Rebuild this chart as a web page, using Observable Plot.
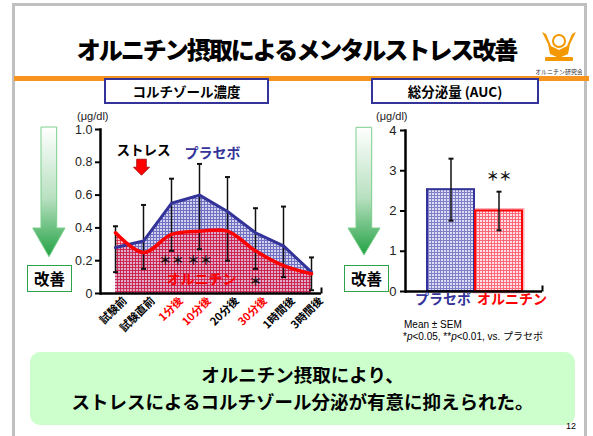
<!DOCTYPE html>
<html><head><meta charset="utf-8">
<script src="https://cdn.jsdelivr.net/npm/d3@7"></script>
<script src="https://cdn.jsdelivr.net/npm/@observablehq/plot@0.6"></script>
<style>
html,body{margin:0;padding:0;}
body{width:593px;height:436px;overflow:hidden;background:#fff;position:relative;font-family:"Noto Sans CJK JP","Noto Sans",sans-serif;}
.abs{position:absolute;}
.frame{left:12px;top:3px;width:575px;height:460px;border:3px solid #c0c0c0;box-sizing:border-box;}
.title{left:0;width:593px;top:31px;text-align:center;font-size:24px;font-weight:900;letter-spacing:-2px;color:#000;line-height:36px;}
.orange{left:14px;top:76px;width:575px;height:5px;background:#f7941d;}
.secbox{border:2px solid #333399;box-sizing:border-box;height:26px;text-align:center;font-weight:700;font-size:13.5px;line-height:22px;color:#000;background:#fff;}
.kaizen{border:1.5px solid #2ca24a;box-sizing:border-box;width:45px;height:27px;text-align:center;font-weight:700;font-size:15.5px;line-height:24px;color:#000;background:#fff;}
.bottom{left:30px;top:352px;width:545px;height:73px;background:#ccffcc;border-radius:10px;text-align:center;font-weight:700;font-size:18.5px;line-height:27px;color:#000;padding-top:9px;box-sizing:border-box;}
.note{font-family:"Liberation Sans","Noto Sans CJK JP",sans-serif;font-size:10px;color:#000;line-height:11.5px;}
</style></head><body>
<svg width="0" height="0" style="position:absolute">
 <defs>
  <pattern id="gBlue" width="3" height="3" patternUnits="userSpaceOnUse">
   <rect width="3" height="3" fill="#d2d2ee"/>
   <path d="M0 0.5H3M0.5 0V3" stroke="#7070c2" stroke-width="1"/>
  </pattern>
  <pattern id="gRed" width="3" height="3" patternUnits="userSpaceOnUse">
   <rect width="3" height="3" fill="#ff5a7a" fill-opacity="0.32"/>
   <path d="M0 0.5H3M0.5 0V3" stroke="#d8183c" stroke-opacity="0.75" stroke-width="1"/>
  </pattern>
  <pattern id="bBlue" width="3" height="3" patternUnits="userSpaceOnUse">
   <rect width="3" height="3" fill="#dcdcf2"/>
   <path d="M0 0.5H3M0.5 0V3" stroke="#8080c8" stroke-width="1"/>
  </pattern>
  <pattern id="bRed" width="3" height="3" patternUnits="userSpaceOnUse">
   <rect width="3" height="3" fill="#ffe0e4"/>
   <path d="M0 0.5H3M0.5 0V3" stroke="#ff6a7a" stroke-width="1"/>
  </pattern>
  <linearGradient id="gArrow" x1="0" y1="0" x2="0" y2="1">
   <stop offset="0" stop-color="#ffffff"/>
   <stop offset="0.55" stop-color="#b8e0c0"/>
   <stop offset="1" stop-color="#22a244"/>
  </linearGradient>
 </defs>
</svg>

<div class="abs frame"></div>
<div class="abs title">オルニチン摂取によるメンタルストレス改善</div>
<svg class="abs" style="left:536px;top:24px" width="46" height="56">
 <g fill="#f39800">
  <path d="M6 8 L12 20 L14 30 L23 34 L32 30 L34 20 L40 8 L36 10 L31 22 L23 26 L15 22 L10 10 Z"/>
  <circle cx="23" cy="17" r="6" fill="none" stroke="#f39800" stroke-width="2"/>
  <rect x="9" y="33" width="28" height="4" rx="1"/>
 </g>
 <text x="23" y="50" text-anchor="middle" font-size="6" font-family="Noto Sans CJK JP" fill="#333">オルニチン研究会</text>
</svg>
<div class="abs orange"></div>

<div class="abs secbox" style="left:104px;top:78px;width:165px;">コルチゾール濃度</div>
<div class="abs secbox" style="left:371px;top:78px;width:168px;">総分泌量 (AUC)</div>

<svg class="abs" style="left:25px;top:120px" width="50" height="140">
 <path d="M16 7 H31.7 V108 H40 L24 136.7 L7.7 108 H16 Z" fill="url(#gArrow)" stroke="#7ccf8c" stroke-width="1"/>
</svg>
<svg class="abs" style="left:340px;top:120px" width="50" height="140">
 <path d="M16 7.3 H31.7 V108 H40 L24 135 L8 108 H16 Z" fill="url(#gArrow)" stroke="#7ccf8c" stroke-width="1"/>
</svg>
<div class="abs kaizen" style="left:27px;top:265px;">改善</div>
<div class="abs kaizen" style="left:344px;top:265px;">改善</div>

<div id="chart1" class="abs" style="left:60px;top:105px"></div>
<div id="chart2" class="abs" style="left:335px;top:105px"></div>

<div class="abs note" style="left:404px;top:319px;">Mean ± SEM</div>
<div class="abs note" style="left:403px;top:331px;">*<i>p</i>&lt;0.05, **<i>p</i>&lt;0.01, vs. プラセボ</div>

<div class="abs bottom">オルニチン摂取により、<br>ストレスによるコルチゾール分泌が有意に抑えられた。</div>
<div class="abs" style="left:566px;top:421px;font-family:'Liberation Sans';font-size:9px;color:#000;">12</div>

<script>
// ---- Cortisol time course (µg/dl) ----
const timepoints = ["試験前","試験直前","1分後","10分後","20分後","30分後","1時間後","3時間後"];
const redTimepoints = ["1分後","10分後","30分後"];
const placeboCortisol = [0.28, 0.32, 0.55, 0.60, 0.50, 0.37, 0.29, 0.13];
const ornithineCortisol = [0.37, 0.25, 0.36, 0.38, 0.38, 0.26, 0.17, 0.12];
const errorUpper = [0.41, 0.54, 0.70, 0.79, 0.71, 0.52, 0.53, 0.22];
const errorLower = [0.13, 0.15, 0.26, 0.27, 0.20, 0.15, 0.10, 0.02];
const cortisolTicks = [0, 0.2, 0.4, 0.6, 0.8, 1.0];
const sigTimes = ["1分後","10分後","30分後"];
const sigLabels = ["＊＊","＊＊","＊"];
const sigLevels = [0.20, 0.20, 0.07];
const stressTime = "試験直前";

// ---- AUC ----
const groups = ["プラセボ","オルニチン"];
const aucMean = [2.53, 2.00];
const aucSem = [0.77, 0.48];
const aucTicks = [0, 1, 2, 3, 4];

const lineData = timepoints.map((t, i) => ({t, p: placeboCortisol[i], o: ornithineCortisol[i], hi: errorUpper[i], lo: errorLower[i]}));
const sigData = sigTimes.map((t, i) => ({t, label: sigLabels[i], y: sigLevels[i]}));

const downArrow = {
  draw(ctx, size) {
    const r = Math.sqrt(size / Math.PI);
    const w = r * 0.6;
    ctx.moveTo(-w, -r); ctx.lineTo(w, -r); ctx.lineTo(w, 0); ctx.lineTo(r, 0);
    ctx.lineTo(0, r); ctx.lineTo(-r, 0); ctx.lineTo(-w, 0); ctx.closePath();
  }
};
const upTick = { draw(ctx) { ctx.moveTo(0, 0); ctx.lineTo(0, -6); } };
const cap = { draw(ctx) { ctx.moveTo(-2.5, 0); ctx.lineTo(2.5, 0); } };

const jp = "Noto Sans CJK JP";
const numFont = "Liberation Sans, Arial, sans-serif";

const chart1 = Plot.plot({
  width: 270, height: 235,
  marginLeft: 40, marginRight: 9, marginTop: 24, marginBottom: 47,
  x: {type: "point", domain: timepoints, range: [55, 251], padding: 0, axis: null},
  y: {domain: [0, 1], axis: null},
  color: {type: "identity"},
  style: {fontFamily: numFont, background: "transparent", overflow: "visible"},
  marks: [
    Plot.areaY(lineData, {x: "t", y: "p", fill: "url(#gBlue)"}),
    Plot.areaY(lineData, {x: "t", y: "o", fill: "url(#gRed)", curve: "catmull-rom"}),
    Plot.ruleX(lineData, {x: "t", y1: "lo", y2: "hi", stroke: "#111", strokeWidth: 1.5}),
    Plot.dot(lineData, {x: "t", y: "hi", symbol: cap, r: 3, stroke: "#111", strokeWidth: 2}),
    Plot.dot(lineData, {x: "t", y: "lo", symbol: cap, r: 3, stroke: "#111", strokeWidth: 2}),
    Plot.lineY(lineData, {x: "t", y: "p", stroke: "#333399", strokeWidth: 3}),
    Plot.lineY(lineData, {x: "t", y: "o", stroke: "#ff0000", strokeWidth: 3.5, curve: "catmull-rom"}),
    Plot.text(sigData, {x: "t", y: "y", text: "label", fontFamily: jp, fontWeight: 700, fontSize: 12.5, fill: "#111", letterSpacing: "-2px"}),
    Plot.text(["ストレス"], {x: () => stressTime, y: 0.87, text: d => d, fontFamily: jp, fontWeight: 700, fontSize: 13.5, fill: "#000"}),
    Plot.dot([stressTime], {x: d => d, y: 0.77, dx: -2, r: 8, symbol: downArrow, fill: "#ff0000", stroke: "#a00000", strokeWidth: 0.8}),
    Plot.text(["プラセボ"], {x: () => "10分後", y: 0.855, dx: 13, text: d => d, fontFamily: jp, fontWeight: 700, fontSize: 14, fill: "#333399"}),
    Plot.text(["オルニチン"], {x: () => "10分後", y: 0.085, dx: 2, text: d => d, fontFamily: jp, fontWeight: 700, fontSize: 14, fill: "#ff0000"}),
    Plot.frame({anchor: "left", stroke: "#000", strokeWidth: 2.5}),
    Plot.ruleY([0], {stroke: "#000", strokeWidth: 2.5}),
    Plot.dot([0], {frameAnchor: "bottom-right", symbol: upTick, r: 3, stroke: "#000", strokeWidth: 2}),
    Plot.axisY({ticks: cortisolTicks, tickFormat: d => d === 0 ? "0" : d.toFixed(1), tickSize: 5, tickPadding: 3, strokeWidth: 2, fontSize: 12.5, fill: "#222", label: null}),
    Plot.text(["(μg/dl)"], {frameAnchor: "top-left", text: d => d, textAnchor: "end", dx: 8, dy: -17.5, fontSize: 11, fill: "#222"}),
    Plot.text(timepoints, {x: d => d, text: d => d, frameAnchor: "bottom", dx: 12, dy: 8, rotate: -45, textAnchor: "end", fontFamily: jp, fontWeight: 700, fontSize: 11, fill: d => redTimepoints.includes(d) ? "#ff0000" : "#000"})
  ]
});
document.getElementById("chart1").appendChild(chart1);

const aucData = groups.map((g, i) => ({g, m: aucMean[i], s: aucSem[i]}));
const barFill = {"プラセボ": "url(#bBlue)", "オルニチン": "url(#bRed)"};
const barStroke = {"プラセボ": "#333399", "オルニチン": "#ff0000"};
const chart2 = Plot.plot({
  width: 215, height: 215,
  marginLeft: 70, marginRight: 8, marginTop: 25, marginBottom: 29,
  x: {type: "band", domain: groups, range: [90.5, 188.5], padding: 0.02, axis: null},
  y: {domain: [0, 4], axis: null},
  color: {type: "identity"},
  style: {fontFamily: numFont, background: "transparent", overflow: "visible"},
  marks: [
    Plot.barY(aucData.filter(d => d.g === "オルニチン"), {x: "g", y: "m", fill: "none", stroke: "#ffb4bc", strokeWidth: 5}),
    Plot.barY(aucData, {x: "g", y: "m", fill: d => barFill[d.g], stroke: d => barStroke[d.g], strokeWidth: 2}),
    Plot.ruleX(aucData, {x: "g", y1: d => d.m - d.s, y2: d => d.m + d.s, stroke: "#111", strokeWidth: 1.5}),
    Plot.dot(aucData, {x: "g", y: d => d.m + d.s, symbol: cap, r: 3, stroke: "#111", strokeWidth: 2}),
    Plot.dot(aucData, {x: "g", y: d => d.m - d.s, symbol: cap, r: 3, stroke: "#111", strokeWidth: 2}),
    Plot.text(["＊＊"], {x: () => "オルニチン", y: 2.84, text: d => d, fontFamily: jp, fontWeight: 700, fontSize: 12.5, fill: "#111", letterSpacing: "-2px"}),
    Plot.frame({anchor: "left", stroke: "#000", strokeWidth: 2.5}),
    Plot.ruleY([0], {stroke: "#000", strokeWidth: 2.5}),
    Plot.dot([0], {frameAnchor: "bottom-right", symbol: upTick, r: 3, stroke: "#000", strokeWidth: 2}),
    Plot.axisY({ticks: aucTicks, tickFormat: d => String(d), tickSize: 5, tickPadding: 4, strokeWidth: 2, fontSize: 13, fill: "#222", label: null}),
    Plot.text(["(μg/dl)"], {frameAnchor: "top-left", text: d => d, textAnchor: "end", dx: 2, dy: -18, fontSize: 11, fill: "#222"}),
    Plot.text(["プラセボ"], {x: () => "プラセボ", frameAnchor: "bottom", dx: -8, dy: 12, text: d => d, fontFamily: jp, fontWeight: 700, fontSize: 14, fill: "#333399"}),
    Plot.text(["オルニチン"], {x: () => "オルニチン", frameAnchor: "bottom", dx: 13, dy: 12, text: d => d, fontFamily: jp, fontWeight: 700, fontSize: 14, fill: "#ff0000"})
  ]
});
document.getElementById("chart2").appendChild(chart2);
</script>
</body></html>
